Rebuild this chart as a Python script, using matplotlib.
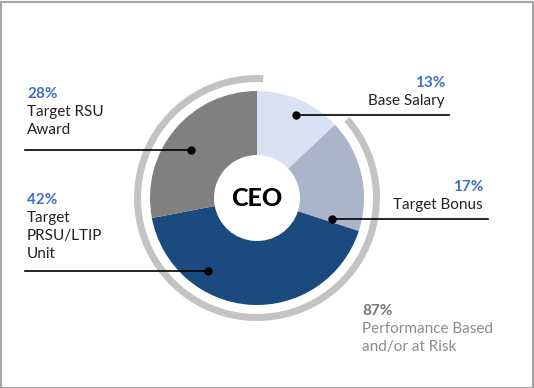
import matplotlib.pyplot as plt
from matplotlib.patches import Wedge, Rectangle

# CEO pay mix
labels = ["Base Salary", "Target Bonus", "Target PRSU/LTIP Unit", "Target RSU Award"]
shares = [13, 17, 42, 28]
at_risk = 87
at_risk_label = ["Performance Based", "and/or at Risk"]

# label layout (pixel coords, y down)
label_lines = [["Base Salary"], ["Target Bonus"], ["Target", "PRSU/LTIP", "Unit"], ["Target RSU", "Award"]]
label_xy = [(445, 83, "right"), (483, 187, "right"), (27, 200, "left"), (27, 94, "left")]
line_ends = [(296, 449, 115), (332, 488, 219), (208, 25, 271), (191, 25, 150)]

colors = ["#d9e2f2", "#aab5c9", "#1b4a7e", "#808080"]
blue = "#3f6fc6"
W, H = 534, 388
cx, cy = 257, 198

plt.rcParams['font.family'] = ['Lato', 'DejaVu Sans']

fig = plt.figure(figsize=(W / 100, H / 100), dpi=100)
ax = fig.add_axes([0, 0, 1, 1])

# y axis runs downward, so angles are mirrored: counterclock=True draws clockwise on screen
ax.pie(shares, colors=colors, startangle=-90, counterclock=True,
       radius=107, center=(cx, cy), wedgeprops=dict(width=64, linewidth=0))

# outer arc covering everything but base salary
start = 90 - shares[0] * 3.6 - 2  # screen angle where arc starts
span = at_risk * 3.6
ax.add_patch(Wedge((cx, cy), 123, -start, -start + span + 1, width=7,
                   facecolor="#c3c3c3", edgecolor="none"))

ax.text(cx, cy + 1, "CEO", ha="center", va="center", fontsize=18, fontweight="black", color="black")

for i, s in enumerate(shares):
    x, y, ha = label_xy[i]
    ax.text(x, y, f"{s}%", ha=ha, va="center", fontsize=11, fontweight="bold", color=blue)
    for j, line in enumerate(label_lines[i]):
        ax.text(x, y + 18 * (j + 1), line, ha=ha, va="center", fontsize=11, color="#222222")
    x0, x1, ly = line_ends[i]
    ax.plot([x0, x1], [ly, ly], color="black", lw=1.2)
    ax.plot(x0, ly, "o", color="black", ms=5)

ax.text(362, 311, f"{at_risk}%", ha="left", va="center", fontsize=11, fontweight="bold", color="#777777")
for j, line in enumerate(at_risk_label):
    ax.text(362, 329 + 18 * j, line, ha="left", va="center", fontsize=11, color="#8c8c8c")

ax.set_xlim(0, W)
ax.set_ylim(H, 0)
ax.set_aspect("auto")
ax.axis("off")

fig.patches.append(Rectangle((0.5, 0.5), W - 1.5, H - 2.5, transform=None, fill=False,
                             edgecolor="#a6a6a6", lw=1.5))

fig.savefig("out.png", dpi=100)
